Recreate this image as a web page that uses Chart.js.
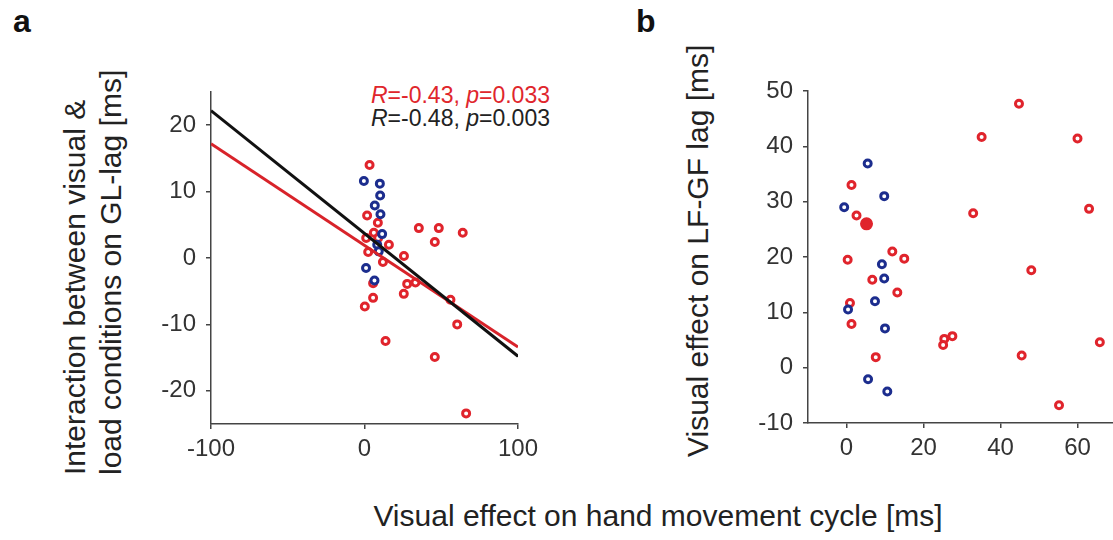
<!DOCTYPE html>
<html>
<head>
<meta charset="utf-8">
<script src="https://cdn.jsdelivr.net/npm/chart.js@4.4.0/dist/chart.umd.min.js"></script>
<style>
  html, body { margin: 0; padding: 0; background: #fff; }
  body { width: 1113px; height: 540px; position: relative; overflow: hidden;
         font-family: "Liberation Sans", Arial, sans-serif; color: #222; }
  canvas { position: absolute; top: 0; }
  #chartA { left: 0; }
  #chartB { left: 620px; }
  .panel { position: absolute; top: 5px; font-size: 32px; line-height: 32px; font-weight: bold; color: #111; }
  .ytitle { position: absolute; font-size: 30px; line-height: 36px; white-space: pre;
            transform-origin: 0 0; transform: rotate(-90deg); color: #222; }
  #xtitle { position: absolute; left: 358px; width: 600px; top: 498px; text-align: center;
            font-size: 30px; line-height: 36px; color: #222; }
  #stats { position: absolute; left: 300px; width: 250px; top: 84px; text-align: right;
           font-size: 23px; line-height: 23px; }
</style>
</head>
<body>
<div class="panel" style="left:13px">a</div>
<div class="panel" style="left:636px">b</div>
<div class="ytitle" style="left:57px; top:475px">Interaction between visual &amp;
load conditions on GL-lag [ms]</div>
<div class="ytitle" style="left:680px; top:457px; width:400px; text-align:center">Visual effect on LF-GF lag [ms]</div>
<div id="xtitle">Visual effect on hand movement cycle [ms]</div>
<div id="stats">
  <div style="color:#e0262c"><i>R</i>=-0.43, <i>p</i>=0.033</div>
  <div style="color:#222"><i>R</i>=-0.48, <i>p</i>=0.003</div>
</div>
<canvas id="chartA" width="560" height="540"></canvas>
<canvas id="chartB" width="540" height="540"></canvas>
<script>
// panel a: interaction on GL-lag vs visual effect on hand movement cycle
const redAX = [3.3, 1.7, 8.7, 6.1, 1.1, 8.9, 15.9, 2.4, 12, 25.7, 35.4, 48.4, 64, 45.8, 27.8, 33.2, 25.6, 5.6, 5.6, 0.2, 56, 60.4, 13.7, 45.8, 66.2];
const redAY = [14.0, 6.4, 5.3, 3.8, 3.0, 3.0, 2.0, 0.9, -0.6, 0.3, 4.5, 4.5, 3.8, 2.4, -3.9, -3.7, -5.4, -3.8, -6.0, -7.3, -6.3, -10, -12.5, -14.9, -23.4];
const blueAX = [-0.4, 10, 10.2, 6.7, 10.4, 11.5, 8.3, 9.3, 1.0, 6.5];
const blueAY = [11.6, 11.2, 9.4, 7.9, 6.6, 3.6, 2.0, 1.0, -1.5, -3.4];
const fitAX = [-100, 100];
const redFitAY = [17.2, -13.4];
const blackFitAY = [22.2, -14.8];

// panel b: visual effect on LF-GF lag vs visual effect on hand movement cycle
const redBX = [44.8, 35.1, 60, 1.3, 63, 32.9, 2.6, 5.2, 11.9, 15, 0.3, 48, 6.7, 13.2, 0.9, 1.3, 27.5, 25.4, 25.1, 65.8, 7.6, 45.5, 55.2];
const redBY = [47.7, 41.7, 41.4, 33.0, 28.7, 27.9, 27.5, 26.0, 21.0, 19.7, 19.5, 17.6, 15.9, 13.6, 11.7, 7.9, 5.7, 5.2, 4.1, 4.6, 1.9, 2.2, -6.8];
const blueBX = [5.5, 9.8, -0.6, 9.2, 9.8, 7.4, 0.4, 10, 5.6, 10.6];
const blueBY = [36.9, 31.0, 29.0, 18.7, 16.1, 12.0, 10.5, 7.1, -2.1, -4.3];

const ticksAX = [-100, 0, 100];
const ticksAY = [-20, -10, 0, 10, 20];
const ticksBX = [0, 20, 40, 60];
const ticksBY = [-10, 0, 10, 20, 30, 40, 50];

const RED = '#e0242c';
const BLUE = '#1c2d8e';
const AXIS = '#444';
const FONT = '"Liberation Sans", Arial, sans-serif';

const pts = (xs, ys) => xs.map((x, i) => ({ x: x, y: ys[i] }));

const ring = (data, color, filledIdx) => ({
  type: 'scatter',
  data: data,
  borderColor: color,
  backgroundColor: (c) => c.dataIndex === filledIdx ? color : '#fff',
  pointRadius: (c) => c.dataIndex === filledIdx ? 5 : 3.5,
  borderWidth: 3
});

const fitLine = (ys, color) => ({
  type: 'line',
  data: pts(fitAX, ys),
  borderColor: color,
  borderWidth: 3,
  pointRadius: 0,
  fill: false
});

const axis = (min, max, ticks, isX, size) => ({
  type: 'linear',
  min: min,
  max: max,
  afterBuildTicks: (s) => { s.ticks = ticks.map(v => ({ value: v })); },
  afterFit: (s) => { if (isX) s.height = size; else s.width = size; },
  grid: { drawOnChartArea: false, drawTicks: true, tickLength: 5, color: AXIS, lineWidth: 1.5 },
  border: { color: AXIS, width: 1.5 },
  ticks: { color: '#333', font: { size: 24, family: FONT }, padding: isX ? 6 : 10, maxRotation: 0 }
});

const common = (pad) => ({
  responsive: false,
  animation: false,
  events: [],
  layout: { padding: pad, autoPadding: false },
  plugins: { legend: { display: false }, tooltip: { enabled: false } }
});

new Chart(document.getElementById('chartA'), {
  data: {
    datasets: [
      fitLine(blackFitAY, '#111'),
      fitLine(redFitAY, '#d8232a'),
      ring(pts(blueAX, blueAY), BLUE, -1),
      ring(pts(redAX, redAY), RED, -1)
    ]
  },
  options: Object.assign(common({ top: 92, right: 42, left: 0, bottom: 0 }), {
    scales: {
      x: axis(-100, 100, ticksAX, true, 116),
      y: axis(-25, 25, ticksAY, false, 211)
    }
  })
});

new Chart(document.getElementById('chartB'), {
  data: {
    datasets: [
      ring(pts(blueBX, blueBY), BLUE, -1),
      ring(pts(redBX, redBY), RED, 7)
    ]
  },
  options: Object.assign(common({ top: 91, right: 44, left: 0, bottom: 0 }), {
    scales: {
      x: axis(-10, 70, ticksBX, true, 117),
      y: axis(-10, 50, ticksBY, false, 188)
    }
  })
});
</script>
</body>
</html>
